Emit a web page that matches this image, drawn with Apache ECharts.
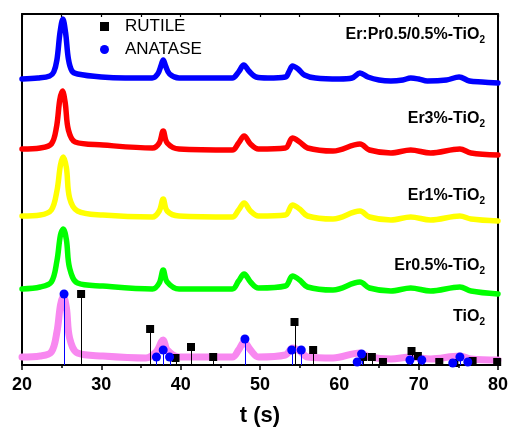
<!DOCTYPE html>
<html>
<head>
<meta charset="utf-8">
<script src="https://cdn.jsdelivr.net/npm/echarts@6/dist/echarts.min.js"></script>
<style>
  html, body { margin: 0; padding: 0; background: #fff; }
  #chart { width: 511px; height: 432px; }
</style>
</head>
<body>
<div id="chart"></div>
<script>
// XRD patterns (2θ in degrees, intensity in a.u., stacked with offsets)
const erPr = [[20,286],[22,287],[23.5,289],[24,293],[24.4,305],[24.8,333],[25.15,346],[25.5,332],[25.85,306],[26.3,294],[27,291],[30,288],[33,287],[36.4,287],[37.1,291],[37.55,300],[37.8,305],[38.1,299],[38.6,291],[39.8,287],[43,287],[46.5,287],[47.3,293],[47.95,300],[48.6,294],[49.5,288],[51,287],[53.2,288],[53.7,294],[54.1,299],[54.8,296],[55.6,290],[57,287],[60,286],[61.6,287],[62.6,292],[63.6,288],[65,285],[66.5,284],[68,285],[69.0,287],[70,286],[71.1,284],[73.5,285],[75.1,288],[76.4,284],[78,283],[80,282]];
const er3 = [[20,216],[22.3,217],[23.7,221],[24.35,238],[24.76,265],[25.1,274],[25.45,262],[25.85,235],[26.7,223],[30.2,220],[36.45,217],[37.3,222],[37.8,234],[38.3,222],[39.8,216],[46.5,215],[47.3,222],[48.0,229],[48.8,221],[49.8,216],[53.2,217],[54.1,227],[55.0,223],[56.0,217],[59.2,214],[62.6,221],[63.8,215],[66.5,212],[69,215],[71.5,212],[75.2,216],[76.6,212],[80,210]];
const er1 = [[20,149],[22.3,150],[23.7,155],[24.4,174],[24.85,200],[25.2,208],[25.6,197],[26.0,167],[27.0,154],[30.2,150],[36.45,148],[37.3,154],[37.8,166],[38.3,154],[39.8,149],[46.5,148],[47.3,155],[48.0,162],[48.8,154],[49.8,149],[53.2,150],[54.1,160],[55.0,156],[56.0,149],[59.2,146],[62.6,154],[63.8,148],[66.5,145],[69,148],[71.5,145],[75.2,149],[76.6,146],[80,144]];
const er05 = [[20,76],[22.3,78],[23.7,83],[24.4,104],[24.85,130],[25.2,136],[25.6,125],[26.0,97],[27.0,82],[30.2,79],[36.45,76],[37.3,82],[37.8,95],[38.3,83],[39.8,76],[46.5,76],[47.3,84],[48.0,91],[48.8,83],[49.8,77],[53.2,79],[54.1,89],[55.0,85],[56.0,78],[59.2,75],[62.6,83],[63.8,77],[66.5,74],[69,77],[71.5,74],[75.2,78],[76.6,74],[80,71]];
const tio2 = [[20,8],[22.3,9],[23.7,13],[24.4,33],[24.85,60],[25.2,69],[25.6,57],[26.0,27],[27.0,12],[30.2,9],[35.6,7],[36.9,13],[37.8,25],[38.3,15],[39.8,8],[46.5,8],[47.3,15],[48.0,23],[48.8,15],[49.8,8],[53.2,10],[54.1,17],[55.0,14],[56.0,8],[59.2,7],[62.6,12],[63.8,8],[66.5,6],[69,8],[71.5,6],[75.2,9],[76.6,6],[80,5]];

// Reference reflections (2θ, relative intensity)
const rutileRef = [[27.45,71],[36.15,36],[39.35,7],[41.3,18],[44.1,8],[54.35,43],[56.7,15],[63.0,8],[64.1,8],[65.5,3],[69.1,14],[69.9,9],[72.6,3],[74.5,2],[76.8,4],[79.9,3]];
const anataseRef = [[25.3,71],[36.95,8],[37.8,15],[38.6,8],[48.1,26],[54.0,15],[55.2,15],[62.25,3],[62.8,11],[68.9,5],[70.4,5],[74.3,2],[75.2,8],[76.2,3]];

// Sample names (drawn with subscript "2")
const sampleNames = ['Er:Pr0.5/0.5%-TiO', 'Er3%-TiO', 'Er1%-TiO', 'Er0.5%-TiO', 'TiO'];

const FONT = 'Liberation Sans, Arial, Helvetica, sans-serif';
const chart = echarts.init(document.getElementById('chart'), null, { renderer: 'canvas' });

function curve(name, data, color, width) {
  return {
    name, type: 'line', data, xAxisIndex: 0, yAxisIndex: 0,
    smooth: 0.35, symbol: 'none', silent: true,
    lineStyle: { color, width, join: 'round', cap: 'round' },
    z: 2
  };
}

function stems(name, data, color) {
  return {
    name: name + '-stem', type: 'custom', data, xAxisIndex: 0, yAxisIndex: 0, silent: true, z: 3,
    renderItem(params, api) {
      const top = api.coord([api.value(0), api.value(1)]);
      const base = api.coord([api.value(0), 0]);
      const x = Math.round(top[0]) + 0.5;
      return { type: 'line', shape: { x1: x, y1: top[1], x2: x, y2: base[1] }, style: { stroke: color, lineWidth: 1 } };
    }
  };
}

const labelY = [36, 120, 197, 267, 318];
const graphics = sampleNames.map((t, i) => ({
  type: 'text', right: 26, top: labelY[i] - 9, z: 10,
  style: {
    text: '{a|' + t + '}{s|2}',
    rich: {
      a: { fontFamily: FONT, fontWeight: 'bold', fontSize: 16, fill: '#000' },
      s: { fontFamily: FONT, fontWeight: 'bold', fontSize: 10, fill: '#000', padding: [10, 0, 0, 0] }
    }
  }
}));

chart.setOption({
  animation: false,
  backgroundColor: '#fff',
  grid: { left: 22, right: 10, top: 14, bottom: 67 },
  legend: {
    data: ['RUTILE', 'ANATASE'],
    orient: 'vertical', left: 95, top: 13, itemGap: 6,
    itemWidth: 9, itemHeight: 9,
    itemStyle: { opacity: 1 },
    textStyle: { fontFamily: FONT, fontSize: 17, color: '#000', padding: [0, 0, 0, 11] },
    selectedMode: false
  },
  xAxis: [{
    type: 'value', min: 20, max: 80, interval: 10, position: 'bottom',
    name: 't (s)', nameLocation: 'middle', nameGap: 40,
    nameTextStyle: { fontFamily: FONT, fontWeight: 'bold', fontSize: 22, color: '#000' },
    axisLine: { show: true, lineStyle: { color: '#000', width: 2 } },
    axisTick: { show: true, inside: false, length: 5, lineStyle: { color: '#000', width: 1.5 } },
    minorTick: { show: true, splitNumber: 2, length: 3, lineStyle: { color: '#000', width: 1.5 } },
    axisLabel: { fontFamily: FONT, fontWeight: 'bold', fontSize: 18, color: '#000', margin: 11 },
    splitLine: { show: false }
  }, {
    type: 'value', min: 20, max: 80, interval: 5, position: 'top',
    axisLine: { show: true, onZero: false, lineStyle: { color: '#000', width: 2 } },
    axisTick: { show: true, inside: true, length: 3, lineStyle: { color: '#000', width: 1.2 } },
    axisLabel: { show: false }, splitLine: { show: false }
  }],
  yAxis: [{
    type: 'value', min: 0, max: 351, position: 'left',
    axisLine: { show: true, onZero: false, lineStyle: { color: '#000', width: 2 } },
    axisTick: { show: false }, axisLabel: { show: false }, splitLine: { show: false }
  }, {
    type: 'value', min: 0, max: 351, position: 'right',
    axisLine: { show: true, onZero: false, lineStyle: { color: '#000', width: 2 } },
    axisTick: { show: false }, axisLabel: { show: false }, splitLine: { show: false }
  }],
  graphic: graphics,
  series: [
    curve('Er:Pr0.5/0.5%-TiO2', erPr, '#0000FF', 5.5),
    curve('Er3%-TiO2', er3, '#FF0000', 5.5),
    curve('Er1%-TiO2', er1, '#FFFF00', 5.5),
    curve('Er0.5%-TiO2', er05, '#00FF00', 5.5),
    curve('TiO2', tio2, '#F888F0', 7),
    stems('RUTILE', rutileRef, '#000'),
    stems('ANATASE', anataseRef, '#0000FF'),
    {
      name: 'RUTILE', type: 'scatter', data: rutileRef, symbol: 'rect', symbolSize: 8,
      itemStyle: { color: '#000', opacity: 1 }, silent: true, z: 4
    },
    {
      name: 'ANATASE', type: 'scatter', data: anataseRef, symbol: 'circle', symbolSize: 9,
      itemStyle: { color: '#0000FF', opacity: 1 }, silent: true, z: 5
    }
  ]
});
</script>
</body>
</html>
